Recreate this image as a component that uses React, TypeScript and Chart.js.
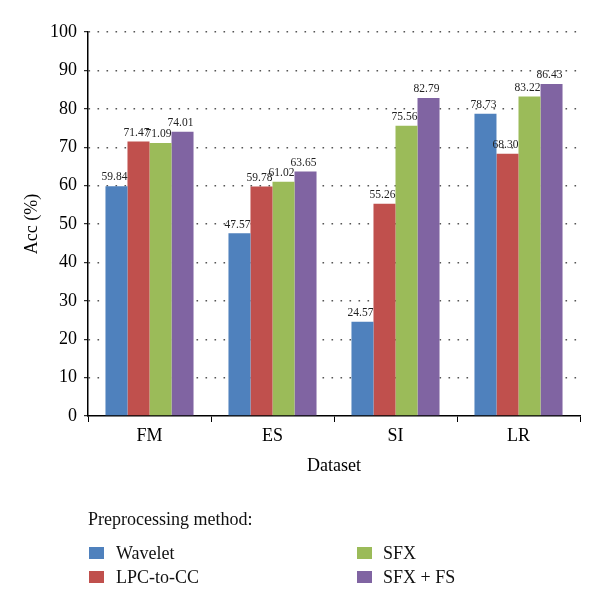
import React, { useEffect, useRef } from "react";
import { Chart, registerables } from "chart.js";

Chart.register(...registerables);

const categories = ["FM", "ES", "SI", "LR"];
const seriesNames = ["Wavelet", "LPC-to-CC", "SFX", "SFX + FS"];
const wavelet = [59.84, 47.57, 24.57, 78.73];
const lpcToCc = [71.47, 59.78, 55.26, 68.3];
const sfx = [71.09, 61.02, 75.56, 83.22];
const sfxFs = [74.01, 63.65, 82.79, 86.43];
const colors = ["#4F81BD", "#C0504D", "#9BBB59", "#8064A2"];
const yTicks = [0, 10, 20, 30, 40, 50, 60, 70, 80, 90, 100];

const FONT = "'Liberation Serif', 'DejaVu Serif', serif";

const valueLabels = {
  id: "valueLabels",
  afterDatasetsDraw(chart: any) {
    const ctx = chart.ctx;
    ctx.save();
    ctx.font = `11.5px ${FONT}`;
    ctx.fillStyle = "#222";
    ctx.textAlign = "center";
    ctx.textBaseline = "bottom";
    chart.data.datasets.forEach((ds: any, i: number) => {
      const meta = chart.getDatasetMeta(i);
      meta.data.forEach((el: any, j: number) => {
        ctx.fillText(Number(ds.data[j]).toFixed(2), el.x - 2, el.y - 3);
      });
    });
    ctx.restore();
  },
};

export default function App() {
  const ref = useRef<HTMLCanvasElement>(null);
  useEffect(() => {
    if (!ref.current) return;
    const seriesData = [wavelet, lpcToCc, sfx, sfxFs];
    const chart = new Chart(ref.current, {
      type: "bar",
      data: {
        labels: categories,
        datasets: seriesData.map((d, i) => ({
          label: seriesNames[i],
          data: d,
          backgroundColor: colors[i],
          borderWidth: 0,
          categoryPercentage: 0.716,
          barPercentage: 1,
        })),
      },
      options: {
        animation: false,
        responsive: false,
        layout: { padding: { top: 32, right: 20, bottom: 125, left: 0 } },
        plugins: { legend: { display: false }, tooltip: { enabled: false } },
        scales: {
          x: {
            afterFit: (s: any) => { s.height = 70; },
            grid: {
              display: true,
              offset: true,
              drawOnChartArea: false,
              drawTicks: true,
              tickLength: 6,
              tickColor: "#000",
              tickWidth: 1,
            },
            border: { display: true, color: "#000", width: 1.5 },
            ticks: { color: "#000", font: { family: FONT, size: 18 }, padding: 3 },
            title: {
              display: true,
              text: "Dataset",
              color: "#000",
              font: { family: FONT, size: 18 },
              padding: { top: 0, bottom: 9 },
            },
          },
          y: {
            min: 0,
            max: 100,
            afterFit: (s: any) => { s.width = 88; },
            afterBuildTicks: (s: any) => { s.ticks = yTicks.map((v) => ({ value: v })); },
            grid: {
              color: (c: any) => (c.tick && c.tick.value === 0 ? "rgba(0,0,0,0)" : "#555"),
              lineWidth: 1.4,
              drawTicks: true,
              tickLength: 4,
              tickColor: "#000",
              tickBorderDash: [],
              tickWidth: 1,
            },
            border: { display: true, color: "#000", width: 1.5, dash: [1.6, 7.4] },
            ticks: { color: "#000", font: { family: FONT, size: 18 }, padding: 7 },
            title: {
              display: true,
              text: "Acc (%)",
              color: "#000",
              font: { family: FONT, size: 18 },
              padding: { top: 21, bottom: 0 },
            },
          },
        },
      },
      plugins: [valueLabels],
    });
    return () => chart.destroy();
  }, []);

  const legendCols = [
    [0, 1],
    [2, 3],
  ];
  const colX = [89, 357];
  const textX = [116, 383];
  const rowTop = [543, 567];

  return (
    <div style={{ position: "absolute", left: 0, top: 0, width: 600, height: 611, background: "#fff", fontFamily: FONT }}>
      <canvas ref={ref} width={600} height={611} style={{ position: "absolute", left: 0, top: 0 }} />
      <div style={{ position: "absolute", left: 88, top: 509, fontSize: 18, lineHeight: "20px", color: "#111", whiteSpace: "nowrap" }}>
        Preprocessing method:
      </div>
      {legendCols.map((col, ci) =>
        col.map((si, ri) => (
          <React.Fragment key={si}>
            <div
              style={{
                position: "absolute",
                left: colX[ci],
                top: rowTop[ri] + 4,
                width: 15,
                height: 12,
                background: colors[si],
              }}
            />
            <div
              style={{
                position: "absolute",
                left: textX[ci],
                top: rowTop[ri],
                fontSize: 18,
                lineHeight: "20px",
                color: "#111",
                whiteSpace: "nowrap",
              }}
            >
              {seriesNames[si]}
            </div>
          </React.Fragment>
        ))
      )}
    </div>
  );
}
